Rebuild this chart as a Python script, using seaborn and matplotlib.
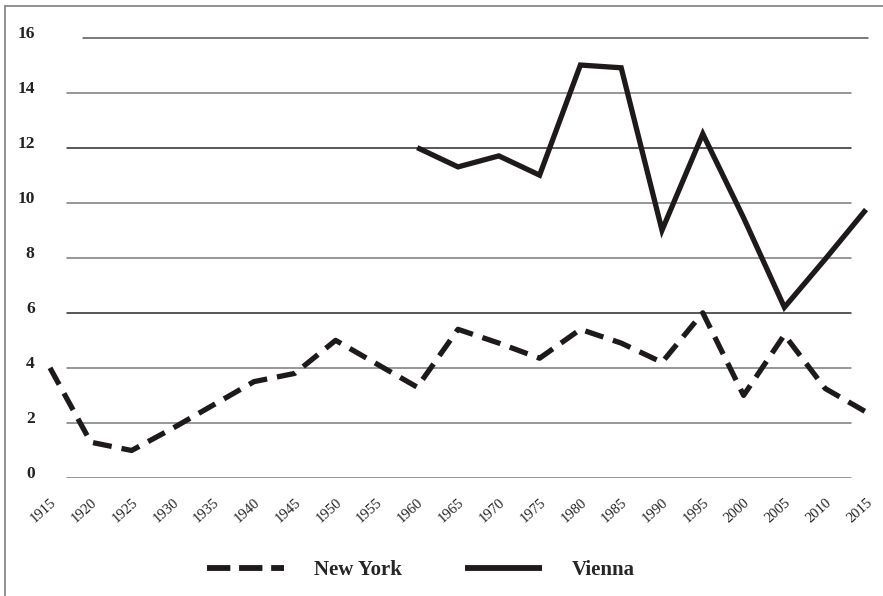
import matplotlib
matplotlib.use("Agg")
import matplotlib.pyplot as plt
import seaborn as sns
import pandas as pd
from matplotlib.lines import Line2D

years = [1915, 1920, 1925, 1930, 1935, 1940, 1945, 1950, 1955, 1960, 1965,
         1970, 1975, 1980, 1985, 1990, 1995, 2000, 2005, 2010, 2015]
new_york = [4.0, 1.3, 1.0, 1.8, 2.65, 3.5, 3.8, 5.0, 4.15, 3.3, 5.4,
            4.9, 4.35, 5.4, 4.9, 4.2, 6.0, 3.0, 5.2, 3.25, 2.4]
vienna_years = [1960, 1965, 1970, 1975, 1980, 1985, 1990, 1995, 2000, 2005, 2010, 2015]
vienna = [12.0, 11.3, 11.7, 11.0, 15.0, 14.9, 9.0, 12.5, 9.45, 6.2, 7.95, 9.75]
y_ticks = [0, 2, 4, 6, 8, 10, 12, 14, 16]
x_ticks = list(range(1915, 2016, 5))

sns.set_theme(style="white")
plt.rcParams["font.family"] = ["Liberation Serif", "DejaVu Serif"]

W, H = 883, 596
fig = plt.figure(figsize=(W / 100, H / 100), dpi=100)
# axes: x from 50 to 866 px, y from 478 (0) to 37.5 (16)
ax = fig.add_axes([50 / W, 1 - 478 / H, 816 / W, (478 - 37.5) / H])
ax.set_xlim(1915, 2015)
ax.set_ylim(0, 16)

# gridlines
for v in y_ticks:
    col = "#2a2a2a" if v in (6, 12) else "#7a7a7a"
    if v == 16:
        ax.axhline(v, xmin=0.040, xmax=1.002, color="#555555", lw=1.1, zorder=1, clip_on=False)
    else:
        ax.axhline(v, xmin=0.021, xmax=0.982, color=col, lw=1.1, zorder=1)

df_ny = pd.DataFrame({"year": years, "value": new_york})
df_v = pd.DataFrame({"year": vienna_years, "value": vienna})

sns.lineplot(data=df_ny, x="year", y="value", ax=ax, color="#1e1a1a", lw=3.8,
             dashes=False, zorder=3, clip_on=False, legend=False)
ax.lines[-1].set_dashes([3.6, 1.9])
ax.lines[-1].set_dash_capstyle("butt")
sns.lineplot(data=df_v, x="year", y="value", ax=ax, color="#1e1a1a", lw=3.8,
             zorder=3, clip_on=False, legend=False)
ax.lines[-1].set_solid_joinstyle("miter")
ax.lines[-1].set_solid_capstyle("butt")

for s in ax.spines.values():
    s.set_visible(False)
ax.set_xlabel("")
ax.set_ylabel("")
ax.set_yticks(y_ticks)
ax.set_yticklabels([str(v) for v in y_ticks], fontsize=12.5, fontweight="bold", color="#222222",
                   va="baseline")
ax.set_xticks(x_ticks)
ax.set_xticklabels([str(v) for v in x_ticks], fontsize=10.5, rotation=42, ha="right",
                   rotation_mode="anchor", color="#222222")
ax.tick_params(axis="y", length=0, pad=11)
ax.tick_params(axis="x", length=0, pad=13)

handles = [Line2D([0], [0], color="#1e1a1a", lw=4.2, dashes=[4.0, 1.5], dash_capstyle="butt"),
           Line2D([0], [0], color="#1e1a1a", lw=4.2, solid_capstyle="butt")]
fig.legend(handles, ["New York", "Vienna"], loc="center", bbox_to_anchor=(421 / W, 1 - 570 / H),
           ncol=2, frameon=False, handlelength=3.7, handletextpad=1.45, columnspacing=3.0,
           prop={"family": "Liberation Serif", "weight": "bold", "size": 15})

# figure border (left and top only)
fig.add_artist(Line2D([4.5 / W, 4.5 / W], [0, 1 - 5.5 / H], transform=fig.transFigure,
                      color="#888888", lw=1.3))
fig.add_artist(Line2D([4.5 / W, 1], [1 - 5.5 / H, 1 - 5.5 / H], transform=fig.transFigure,
                      color="#888888", lw=1.3))

fig.savefig("out.png", dpi=100)
